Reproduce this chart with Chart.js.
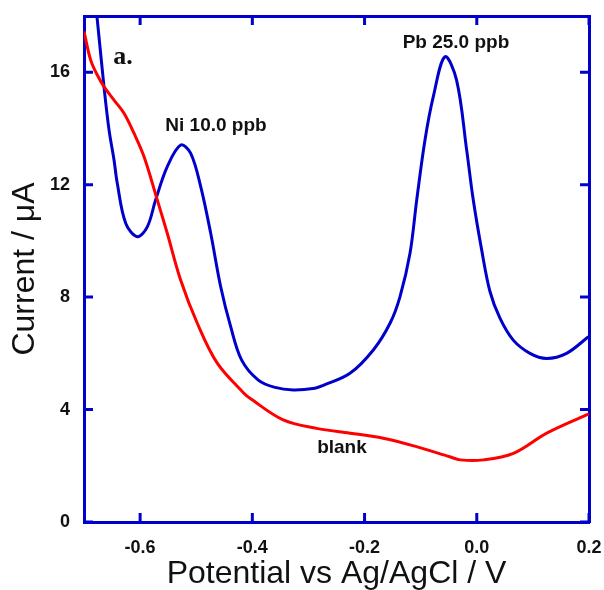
<!DOCTYPE html>
<html>
<head>
<meta charset="utf-8">
<script src="https://cdn.jsdelivr.net/npm/chart.js@4"></script>
<style>
  html, body { margin: 0; padding: 0; background: #fff; }
  #wrap { width: 604px; height: 590px; }
</style>
</head>
<body>
<div id="wrap"><canvas id="voltChart" width="604" height="590"></canvas></div>
<script>
// potential (V) and current (uA)
const blankX = [-0.7, -0.6881, -0.6763, -0.6644, -0.6465, -0.6287, -0.6109, -0.5931, -0.5694, -0.5516,
    -0.5278, -0.4981, -0.4625, -0.415, -0.4042, -0.345, -0.2856, -0.226, -0.1668, -0.1075,
    -0.0481, -0.0297, 0.0118, 0.0653, 0.1247, 0.1955, 0.2];
const blankY = [17.45, 16.43, 15.9, 15.49, 15.01, 14.54, 13.83, 13.0, 11.46, 10.27,
    8.61, 7.07, 5.65, 4.58, 4.4, 3.63, 3.33, 3.16, 2.98, 2.68,
    2.32, 2.21, 2.21, 2.44, 3.16, 3.81, 3.85];

const sampleX = [-0.679, -0.6763, -0.6644, -0.6554, -0.6465, -0.6407, -0.6257, -0.605, -0.5872, -0.5723,
    -0.5516, -0.5277, -0.51, -0.492, -0.4742, -0.4564, -0.4386, -0.419, -0.3894, -0.3597,
    -0.327, -0.2884, -0.2735, -0.226, -0.1844, -0.1546, -0.1369, -0.119, -0.107, -0.0923,
    -0.0775, -0.0567, -0.036, -0.018, -0.0063, 0.0087, 0.0235, 0.0413, 0.065, 0.0948,
    0.1245, 0.16, 0.199];
const sampleY = [18.3, 17.86, 15.49, 13.95, 12.88, 12.05, 10.63, 10.15, 10.5, 11.46,
    12.64, 13.41, 13.12, 11.93, 10.27, 8.37, 6.95, 5.76, 5.05, 4.79,
    4.70, 4.76, 4.86, 5.29, 6.12, 7.07, 8.01, 9.56, 11.46, 13.59,
    15.13, 16.55, 15.72, 13.23, 11.46, 9.68, 8.2, 7.25, 6.47, 6.0,
    5.82, 6.0, 6.59];

const xTicks = [-0.6, -0.4, -0.2, 0.0, 0.2];
const yTicks = [0, 4, 8, 12, 16];

const notes = [
    { text: "Ni 10.0 ppb", x: -0.4648, y: 14.09 },
    { text: "Pb 25.0 ppb", x: -0.0371, y: 17.04 },
    { text: "blank", x: -0.2403, y: 2.63 }
];

const BLUE = "#0000cc";
const RED = "#ff0000";
const FONT = "'Liberation Sans', Arial, sans-serif";

function toPoints(xs, ys) {
    return xs.map((x, i) => ({ x: x, y: ys[i] }));
}

function fixTicks(list) {
    return scale => {
        scale.ticks = list.map(v => ({ value: v }));
    };
}

// pin each axis box so the plot frame lands where the original one is
function boxSize(size) {
    return scale => {
        if (scale.isHorizontal()) {
            scale.height = size;
        } else {
            scale.width = size;
        }
        scale.paddingLeft = 0;
        scale.paddingRight = 0;
        scale.paddingTop = 0;
        scale.paddingBottom = 0;
    };
}

// tick marks point inward on all four sides, plus the text notes
const frameTicks = {
    id: "frameTicks",
    afterDatasetsDraw(chart) {
        const ctx = chart.ctx;
        const a = chart.chartArea;
        const xs = chart.scales.x;
        const ys = chart.scales.y;
        const len = 9;
        ctx.save();
        ctx.strokeStyle = BLUE;
        ctx.lineWidth = 3;
        ctx.beginPath();
        xTicks.forEach(v => {
            const px = xs.getPixelForValue(v);
            ctx.moveTo(px, a.bottom);
            ctx.lineTo(px, a.bottom - len);
            ctx.moveTo(px, a.top);
            ctx.lineTo(px, a.top + len);
        });
        yTicks.forEach(v => {
            const py = ys.getPixelForValue(v);
            ctx.moveTo(a.left, py);
            ctx.lineTo(a.left + len, py);
            ctx.moveTo(a.right, py);
            ctx.lineTo(a.right - len, py);
        });
        ctx.stroke();

        ctx.fillStyle = "#111";
        ctx.textAlign = "center";
        ctx.textBaseline = "middle";
        ctx.font = "bold 19px " + FONT;
        notes.forEach(n => {
            ctx.fillText(n.text, xs.getPixelForValue(n.x), ys.getPixelForValue(n.y));
        });
        ctx.font = "bold 26px 'Liberation Serif', 'Times New Roman', serif";
        ctx.fillText("a.", xs.getPixelForValue(-0.6305), ys.getPixelForValue(16.54));
        ctx.restore();
    }
};

const tickFont = { family: FONT, size: 18, weight: "bold" };
const titleFont = { family: FONT, size: 32, lineHeight: 1 };

new Chart(document.getElementById("voltChart"), {
    type: "scatter",
    data: {
        datasets: [
            {
                label: "blank",
                data: toPoints(blankX, blankY),
                showLine: true,
                borderColor: RED,
                borderWidth: 3,
                pointRadius: 0,
                tension: 0.35
            },
            {
                label: "Ni 10.0 ppb + Pb 25.0 ppb",
                data: toPoints(sampleX, sampleY),
                showLine: true,
                borderColor: BLUE,
                borderWidth: 3,
                pointRadius: 0,
                tension: 0.35
            }
        ]
    },
    options: {
        responsive: false,
        animation: false,
        layout: { padding: 0 },
        plugins: {
            legend: { display: false },
            tooltip: { enabled: false }
        },
        scales: {
            x: {
                type: "linear",
                position: "bottom",
                min: -0.7,
                max: 0.2,
                afterBuildTicks: fixTicks(xTicks),
                afterFit: boxSize(68),
                grid: { display: false, drawTicks: false },
                border: { display: true, color: BLUE, width: 3 },
                ticks: {
                    color: "#111",
                    font: tickFont,
                    padding: 15,
                    maxRotation: 0,
                    callback: v => v.toFixed(1)
                },
                title: {
                    display: true,
                    text: "Potential vs Ag/AgCl / V",
                    color: "#111",
                    font: titleFont,
                    padding: { top: 0, bottom: 0 }
                }
            },
            x2: {
                type: "linear",
                position: "top",
                min: -0.7,
                max: 0.2,
                afterFit: boxSize(16),
                grid: { display: false, drawTicks: false },
                border: { display: true, color: BLUE, width: 3 },
                ticks: { display: false }
            },
            y: {
                type: "linear",
                position: "left",
                min: 0,
                max: 18,
                afterBuildTicks: fixTicks(yTicks),
                afterFit: boxSize(84),
                grid: { display: false, drawTicks: false },
                border: { display: true, color: BLUE, width: 3 },
                ticks: {
                    color: "#111",
                    font: tickFont,
                    padding: 14
                },
                title: {
                    display: true,
                    text: "Current / μA",
                    color: "#111",
                    font: titleFont,
                    padding: { top: 9, bottom: 0 }
                }
            },
            y2: {
                type: "linear",
                position: "right",
                min: 0,
                max: 18,
                afterFit: boxSize(15),
                grid: { display: false, drawTicks: false },
                border: { display: true, color: BLUE, width: 3 },
                ticks: { display: false }
            }
        }
    },
    plugins: [frameTicks]
});
</script>
</body>
</html>
